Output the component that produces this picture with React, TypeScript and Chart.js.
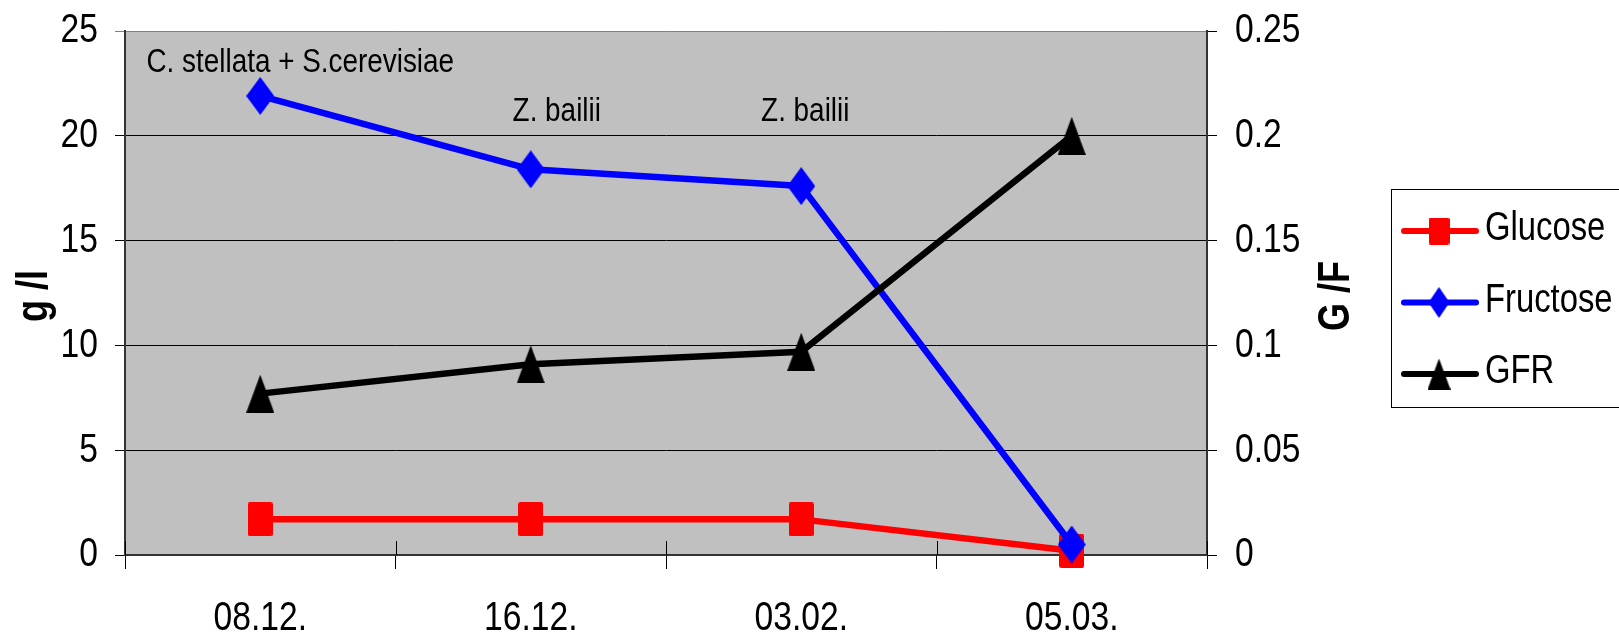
import { useEffect, useRef } from 'react';
import { Chart, registerables } from 'chart.js';

Chart.register(...registerables);

// ---- data ----
const categories = ['08.12.', '16.12.', '03.02.', '05.03.'];
const glucose = [1.7, 1.7, 1.7, 0.2];
const fructose = [21.9, 18.4, 17.6, 0.5];
const gfr = [0.077, 0.091, 0.097, 0.2];
const seriesNames = ['Glucose', 'Fructose', 'GFR'];
const seriesColors = ['#FF0000', '#0000FF', '#000000'];
const leftMax = 25;
const leftStep = 5;
const rightMax = 0.25;
const rightStep = 0.05;
const leftTitle = 'g /l';
const rightTitle = 'G /F';
const annotationTexts = ['C. stellata + S.cerevisiae', 'Z. bailii', 'Z. bailii'];
const annotationCategories = [0, 1, 2];

const FONT = "'Liberation Sans', Arial, sans-serif";
const NARROW_SCALE = 0.82;

function makeMarker(shape: string, w: number, h: number, color: string) {
  const c = document.createElement('canvas');
  c.width = w;
  c.height = h;
  const g = c.getContext('2d')!;
  g.fillStyle = color;
  g.beginPath();
  if (shape === 'rect') {
    if ((g as any).roundRect) (g as any).roundRect(0, 0, w, h, 2);
    else g.rect(0, 0, w, h);
  } else if (shape === 'diamond') {
    g.moveTo(w / 2, 0);
    g.lineTo(w, h / 2);
    g.lineTo(w / 2, h);
    g.lineTo(0, h / 2);
    g.closePath();
  } else {
    g.moveTo(w / 2, 0);
    g.lineTo(w, h);
    g.lineTo(0, h);
    g.closePath();
  }
  g.fill();
  return c;
}

export default function App() {
  const ref = useRef<HTMLCanvasElement>(null);

  useEffect(() => {
    document.body.style.margin = '0';
    const canvas = ref.current!;
    const c2d = canvas.getContext('2d')! as any;
    // narrow (Arial Narrow-like) rendering: condense every text run horizontally around its anchor
    if (!c2d.__narrowPatched) {
      const orig = c2d.fillText.bind(c2d);
      c2d.fillText = (text: string, x: number, y: number) => {
        c2d.save();
        c2d.translate(x, y);
        c2d.scale(NARROW_SCALE, 1);
        orig(text, 0, 0);
        c2d.restore();
      };
      c2d.__narrowPatched = true;
    }

    const plotMarkers = [
      makeMarker('rect', 25, 34, seriesColors[0]),
      makeMarker('diamond', 28, 38, seriesColors[1]),
      makeMarker('triangle', 28, 38, seriesColors[2]),
    ];
    const legendMarkers = [
      makeMarker('rect', 21, 27, seriesColors[0]),
      makeMarker('diamond', 21, 31, seriesColors[1]),
      makeMarker('triangle', 23, 31, seriesColors[2]),
    ];

    // annotation placement (style): pixel offset from category centre, baseline offset from plot top
    const annotationDx = [40, 26, 4];
    const annotationBaseline = [41, 90, 90];

    const decor = {
      id: 'decor',
      beforeDraw(chart: any) {
        const { ctx, chartArea: a } = chart;
        ctx.save();
        ctx.fillStyle = '#C0C0C0';
        ctx.fillRect(a.left, a.top, a.right - a.left, a.bottom - a.top);
        ctx.restore();
      },
      afterDraw(chart: any) {
        const { ctx, chartArea: a, scales } = chart;
        const xs = scales.x;
        ctx.save();
        // inner tick marks on the category axis
        ctx.strokeStyle = '#000';
        ctx.lineWidth = 1;
        const n = categories.length;
        for (let i = 0; i <= n; i++) {
          const x = Math.round(a.left + (i * (a.right - a.left)) / n) + 0.5;
          ctx.beginPath();
          ctx.moveTo(x, a.bottom - 14);
          ctx.lineTo(x, a.bottom);
          ctx.stroke();
        }
        const midY = (a.top + a.bottom) / 2 + 3;
        // axis titles
        ctx.fillStyle = '#000';
        ctx.font = `bold 44px ${FONT}`;
        ctx.textAlign = 'center';
        ctx.textBaseline = 'middle';
        ctx.save();
        ctx.translate(a.left - 90, midY);
        ctx.rotate(-Math.PI / 2);
        ctx.fillText(leftTitle, 0, 0);
        ctx.restore();
        ctx.save();
        ctx.translate(a.right + 130, midY);
        ctx.rotate(-Math.PI / 2);
        ctx.fillText(rightTitle, 0, 0);
        ctx.restore();
        // annotations
        ctx.font = `34px ${FONT}`;
        ctx.textBaseline = 'alphabetic';
        annotationTexts.forEach((t, i) => {
          const x = xs.getPixelForValue(annotationCategories[i]) + annotationDx[i];
          ctx.fillText(t, x, a.top + annotationBaseline[i]);
        });
        // legend
        const lx = a.right + 184;
        const ly = 189;
        ctx.strokeStyle = '#000';
        ctx.lineWidth = 1;
        ctx.strokeRect(lx + 0.5, ly + 0.5, 400, 218);
        ctx.font = `40px ${FONT}`;
        ctx.textAlign = 'left';
        seriesNames.forEach((name, i) => {
          const cy = ly + 42 + i * 71.5;
          ctx.strokeStyle = seriesColors[i];
          ctx.lineWidth = 6;
          ctx.lineCap = 'round';
          ctx.beginPath();
          ctx.moveTo(lx + 13, cy);
          ctx.lineTo(lx + 85, cy);
          ctx.stroke();
          const m = legendMarkers[i];
          ctx.drawImage(m, lx + 48 - m.width / 2, cy - m.height / 2);
          ctx.fillStyle = '#000';
          ctx.fillText(name, lx + 94, cy + 9);
        });
        ctx.restore();
      },
    };

    const noPad = (s: any) => {
      s.paddingTop = 0;
      s.paddingBottom = 0;
      s.paddingLeft = 0;
      s.paddingRight = 0;
    };

    const chart = new Chart(canvas, {
      type: 'line',
      data: {
        labels: categories,
        datasets: [
          {
            label: seriesNames[0],
            data: glucose,
            yAxisID: 'y',
            borderColor: seriesColors[0],
            backgroundColor: seriesColors[0],
            borderWidth: 6.5,
            pointStyle: plotMarkers[0] as any,
            pointRadius: 12,
            order: 2,
            clip: false as any,
          },
          {
            label: seriesNames[1],
            data: fructose,
            yAxisID: 'y',
            borderColor: seriesColors[1],
            backgroundColor: seriesColors[1],
            borderWidth: 6.5,
            pointStyle: plotMarkers[1] as any,
            pointRadius: 12,
            order: 1,
            clip: false as any,
          },
          {
            label: seriesNames[2],
            data: gfr,
            yAxisID: 'y1',
            borderColor: seriesColors[2],
            backgroundColor: seriesColors[2],
            borderWidth: 6.5,
            pointStyle: plotMarkers[2] as any,
            pointRadius: 12,
            order: 0,
            clip: false as any,
          },
        ],
      },
      options: {
        responsive: false,
        animation: false,
        devicePixelRatio: 1,
        layout: { padding: { top: 31, left: 0, right: 0, bottom: 0 } },
        elements: {
          line: { tension: 0, borderCapStyle: 'round', borderJoinStyle: 'round', fill: false },
        },
        plugins: {
          legend: { display: false },
          tooltip: { enabled: false },
          title: { display: false },
        },
        scales: {
          x: {
            type: 'category',
            offset: true,
            afterFit: (s: any) => {
              s.height = 86;
              noPad(s);
            },
            grid: {
              offset: true,
              drawOnChartArea: false,
              tickLength: 14,
              color: '#000',
              lineWidth: 1,
            },
            border: { color: '#333', width: 2 },
            ticks: {
              color: '#000',
              font: { family: FONT, size: 41 },
              padding: 25,
              maxRotation: 0,
              autoSkip: false,
            },
          },
          y: {
            position: 'left',
            min: 0,
            max: leftMax,
            afterFit: (s: any) => {
              s.width = 125;
              noPad(s);
            },
            grid: {
              color: (c: any) => (c.tick && c.tick.value === leftMax ? '#808080' : '#000'),
              lineWidth: 1,
              tickLength: 10,
            },
            border: { color: '#333', width: 2 },
            ticks: {
              stepSize: leftStep,
              color: '#000',
              font: { family: FONT, size: 41 },
              padding: 17,
              callback: (v: any) => String(v),
            },
          },
          y1: {
            position: 'right',
            min: 0,
            max: rightMax,
            afterFit: (s: any) => {
              s.width = 412;
              noPad(s);
            },
            grid: {
              drawOnChartArea: false,
              color: '#000',
              lineWidth: 1,
              tickLength: 10,
            },
            border: { color: '#333', width: 2 },
            ticks: {
              stepSize: rightStep,
              color: '#000',
              font: { family: FONT, size: 41 },
              padding: 18,
              callback: (v: any) => String(Number(Number(v).toFixed(2))),
            },
          },
        },
      },
      plugins: [decor],
    });

    return () => chart.destroy();
  }, []);

  return (
    <div style={{ width: 1619, height: 641 }}>
      <canvas ref={ref} width={1619} height={641} style={{ display: 'block' }} />
    </div>
  );
}
